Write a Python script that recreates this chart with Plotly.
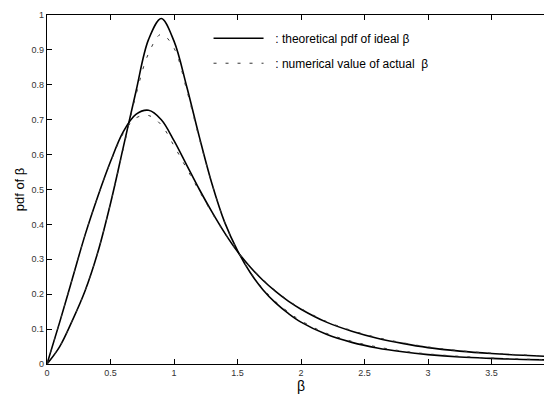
import plotly.graph_objects as go

# beta values (x)
beta = [0.0, 0.1, 0.2, 0.3, 0.4, 0.5, 0.6, 0.7, 0.8, 0.9, 1.0, 1.1, 1.2, 1.3, 1.4,
        1.5, 1.6, 1.7, 1.8, 1.9, 2.0, 2.2, 2.4, 2.6, 2.8, 3.0, 3.25, 3.5, 3.75, 4.0]

# theoretical pdf, curve with the tall peak
theory_a = [0.0, 0.05, 0.125, 0.21, 0.32, 0.46, 0.62, 0.78, 0.93, 0.99, 0.925, 0.795, 0.65,
            0.515, 0.405, 0.325, 0.262, 0.213, 0.175, 0.145, 0.12, 0.085, 0.062, 0.046,
            0.035, 0.027, 0.02, 0.016, 0.013, 0.011]
# theoretical pdf, curve with the wide peak
theory_b = [0.0, 0.12, 0.245, 0.37, 0.48, 0.58, 0.665, 0.715, 0.727, 0.70, 0.64, 0.57, 0.50,
            0.435, 0.375, 0.322, 0.278, 0.24, 0.208, 0.18, 0.157, 0.12, 0.094, 0.074,
            0.059, 0.047, 0.037, 0.03, 0.025, 0.021]

# numerical values (dashed)
numeric_a = [0.0, 0.05, 0.125, 0.21, 0.32, 0.46, 0.615, 0.77, 0.89, 0.945, 0.905, 0.785, 0.645,
             0.515, 0.405, 0.325, 0.264, 0.216, 0.179, 0.149, 0.124, 0.088, 0.065, 0.049,
             0.037, 0.029, 0.022, 0.017, 0.014, 0.012]
numeric_b = [0.0, 0.12, 0.245, 0.37, 0.48, 0.578, 0.66, 0.705, 0.712, 0.685, 0.625, 0.56, 0.495,
             0.432, 0.374, 0.322, 0.279, 0.242, 0.21, 0.182, 0.159, 0.122, 0.096, 0.076,
             0.061, 0.049, 0.038, 0.031, 0.026, 0.022]

x_ticks = [0, 0.5, 1, 1.5, 2, 2.5, 3, 3.5, 4]
x_tick_text = ["0", "0.5", "1", "1.5", "2", "2.5", "3", "3.5", "4"]
y_ticks = [0, 0.1, 0.2, 0.3, 0.4, 0.5, 0.6, 0.7, 0.8, 0.9, 1]
y_tick_text = ["0", "0.1", "0.2", "0.3", "0.4", "0.5", "0.6", "0.7", "0.8", "0.9", "1"]

solid = dict(color="black", width=1.6, shape="spline", smoothing=1.0)
dashed = dict(color="#333333", width=1, dash="3px,9px", shape="spline", smoothing=1.0)

fig = go.Figure()
fig.add_trace(go.Scatter(x=beta, y=theory_a, mode="lines", line=solid, legendgroup="theory",
                         name="\u00a0\u00a0: theoretical pdf of ideal \u03b2"))
fig.add_trace(go.Scatter(x=beta, y=theory_b, mode="lines", line=solid, legendgroup="theory",
                         showlegend=False))
fig.add_trace(go.Scatter(x=beta, y=numeric_a, mode="lines", line=dashed, legendgroup="numeric",
                         name="\u00a0\u00a0: numerical value of actual  \u03b2"))
fig.add_trace(go.Scatter(x=beta, y=numeric_b, mode="lines", line=dashed, legendgroup="numeric",
                         showlegend=False))

axis_common = dict(showline=True, linecolor="black", linewidth=1.2, mirror="ticks",
                   ticks="inside", ticklen=5, tickcolor="black", showgrid=False,
                   zeroline=False, ticklabeloverflow="allow",
                   tickfont=dict(family="Liberation Sans, Arial", size=9, color="#333333"))

fig.update_layout(
    width=552, height=394,
    margin=dict(l=39, r=2, t=3, b=38),
    paper_bgcolor="white", plot_bgcolor="white",
    font=dict(family="Liberation Sans, Arial", color="black"),
    xaxis=dict(range=[0, 4], tickvals=x_ticks, ticktext=x_tick_text,
               title=dict(text="\u03b2", font=dict(size=14), standoff=2), **axis_common),
    yaxis=dict(range=[0, 1], tickvals=y_ticks, ticktext=y_tick_text,
               title=dict(text="pdf of \u03b2", font=dict(size=13), standoff=4), **axis_common),
    legend=dict(x=0.318, y=0.975, xanchor="left", yanchor="top", bgcolor="rgba(0,0,0,0)",
                borderwidth=0, font=dict(size=12), itemwidth=50, tracegroupgap=6,
                traceorder="grouped"),
    showlegend=True,
)

fig.write_html("out.html")
